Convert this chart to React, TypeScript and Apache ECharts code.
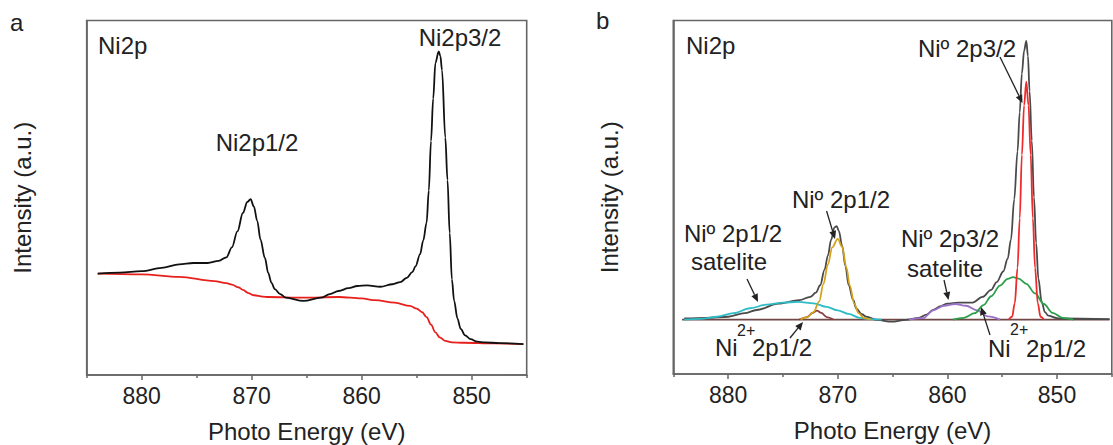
import React, { useEffect, useRef } from 'react';
import * as echarts from 'echarts';

const FONT = '"Liberation Sans", Arial, Helvetica, sans-serif';

// ---------- tick values ----------
const majorTicks = [850, 860, 870, 880];
const minorTicks = [845, 855, 865, 875, 885];

// ---------- panel a : measured spectrum and background ----------
const aMeasured: [number, number][] = [
  [884.0, 28.6], [882.0, 28.9], [880.0, 29.3], [878.2, 30.2], [876.6, 31.2], [875.3, 31.6],
  [874.0, 31.6], [873.0, 32.2], [872.3, 33.2], [871.8, 36.0], [871.3, 40.5], [870.8, 45.7],
  [870.4, 48.8], [870.1, 49.6], [869.8, 47.5], [869.5, 43.5], [869.2, 38.2], [868.8, 33.0],
  [868.5, 28.8], [868.2, 26.0], [867.9, 24.2], [867.4, 22.8], [866.9, 21.8], [865.3, 20.9],
  [863.7, 21.8], [862.9, 22.8], [862.1, 23.7], [861.2, 24.5], [860.4, 25.1], [859.5, 25.3],
  [858.3, 24.9], [857.2, 25.6], [856.5, 26.2], [855.9, 27.4], [855.4, 29.0], [855.1, 30.7],
  [854.7, 34.0], [854.4, 38.0], [854.1, 43.0], [853.9, 52.0], [853.7, 66.0], [853.5, 78.0],
  [853.3, 88.0], [853.0, 91.3], [852.85, 90.0], [852.7, 86.0], [852.4, 67.0], [852.2, 55.0],
  [852.0, 40.0], [851.8, 27.0], [851.6, 21.0], [851.3, 16.0], [851.0, 13.0], [850.6, 11.2],
  [850.1, 10.1], [849.5, 9.4], [848.8, 9.2], [847.5, 9.0], [845.3, 8.7],
];
const aBackground: [number, number][] = [
  [884.0, 28.6], [880.0, 28.4], [876.6, 27.7], [873.4, 26.5], [872.3, 25.9], [871.8, 25.5],
  [871.2, 24.7], [870.8, 24.0], [870.3, 23.1], [869.8, 22.5], [869.0, 22.1], [868.5, 22.0],
  [865.3, 21.8], [862.1, 22.0], [860.0, 21.6], [858.8, 21.1], [857.0, 20.4], [855.6, 19.5],
  [855.0, 18.7], [854.5, 17.7], [854.1, 16.3], [853.7, 14.2], [853.3, 12.0], [852.9, 10.6],
  [852.4, 9.6], [851.8, 9.2], [850.7, 9.1], [848.0, 8.9], [845.3, 8.7],
];

// ---------- panel b : envelope, fitted components, baseline ----------
const bEnvelope: [number, number][] = [
  [884.0, 15.7], [882.0, 15.9], [880.0, 16.2], [878.5, 17.2], [877.4, 18.1], [875.4, 19.9],
  [873.5, 20.9], [872.5, 21.8], [872.0, 23.0], [871.6, 25.1], [871.2, 29.5], [870.9, 33.5],
  [870.6, 38.0], [870.3, 41.5], [870.1, 41.8], [869.9, 40.5], [869.6, 36.3], [869.3, 30.5],
  [869.0, 25.1], [868.6, 21.0], [868.3, 18.5], [867.8, 16.9], [867.4, 16.2], [866.4, 15.3],
  [865.1, 14.8], [863.8, 15.3], [862.6, 15.9], [861.9, 16.8], [861.3, 18.1], [860.6, 19.2],
  [860.0, 19.9], [859.0, 20.2], [857.7, 20.2], [856.8, 21.8], [856.0, 23.8], [855.5, 26.0],
  [854.9, 29.0], [854.5, 32.6], [854.2, 38.0], [853.9, 49.4], [853.6, 63.0], [853.4, 74.0],
  [853.2, 85.0], [853.0, 91.5], [852.8, 94.2], [852.65, 90.0], [852.5, 80.0], [852.3, 66.0],
  [852.1, 50.0], [851.9, 37.0], [851.7, 27.0], [851.4, 20.5], [851.1, 17.5], [850.8, 16.5],
  [850.0, 15.8], [849.7, 15.7], [845.2, 15.5],
];
const bNi0_2p32: [number, number][] = [
  [854.4, 15.4], [854.1, 16.2], [853.85, 20.0], [853.6, 30.0], [853.4, 44.0], [853.2, 62.0],
  [853.0, 76.0], [852.8, 82.7], [852.6, 76.0], [852.4, 62.0], [852.2, 44.0], [852.0, 30.0],
  [851.75, 20.0], [851.5, 16.2], [851.2, 15.4],
];
const bNi2_2p: [number, number][] = [
  [859.5, 15.4], [858.5, 15.9], [857.5, 17.2], [856.7, 19.5], [856.0, 22.0], [855.2, 25.0],
  [854.5, 26.9], [854.0, 27.4], [853.5, 27.0], [852.8, 25.5], [852.0, 22.8], [851.2, 19.8],
  [850.4, 17.3], [849.5, 15.9], [848.5, 15.4],
];
const bNi0_2p32Sat: [number, number][] = [
  [863.5, 15.4], [862.2, 15.8], [861.3, 18.0], [860.3, 19.3], [859.3, 19.8], [858.3, 19.3],
  [857.3, 18.0], [856.3, 16.3], [855.2, 15.4],
];
const bNi0_2p12Sat: [number, number][] = [
  [884.0, 15.4], [882.5, 15.6], [881.0, 16.2], [879.5, 17.2], [878.0, 18.6], [876.5, 19.6],
  [875.0, 20.2], [873.6, 20.4], [872.2, 20.0], [871.0, 19.0], [870.0, 18.0], [869.0, 17.0],
  [868.0, 15.9], [867.0, 15.5], [866.0, 15.4],
];
const bNi0_2p12: [number, number][] = [
  [873.4, 15.4], [872.8, 16.0], [872.2, 17.5], [871.7, 20.5], [871.3, 25.5], [870.9, 31.0],
  [870.5, 35.8], [870.0, 38.2], [869.6, 36.0], [869.2, 30.0], [868.9, 25.0], [868.5, 20.0],
  [868.1, 17.2], [867.6, 15.8], [867.0, 15.4],
];
const bNi2_2p12: [number, number][] = [
  [873.5, 15.4], [872.8, 16.1], [872.3, 17.3], [871.9, 17.9], [871.5, 17.3], [871.0, 16.1],
  [870.4, 15.4],
];
const bBaseline: [number, number][] = [[884.2, 15.4], [845.2, 15.4]];

const AXIS_COLOR = '#666';
const TEXT_COLOR = '#222';

function xAxes(gridIndex: number) {
  return [
    {
      type: 'value', gridIndex, min: 845, max: 885, inverse: true,
      axisLine: { show: true, onZero: false, lineStyle: { color: AXIS_COLOR, width: 1.6 } },
      axisTick: { show: true, customValues: majorTicks, length: 5, lineStyle: { color: AXIS_COLOR, width: 1.5 } },
      axisLabel: { show: true, customValues: majorTicks, color: TEXT_COLOR, fontSize: 23, fontFamily: FONT, margin: 9 },
      splitLine: { show: false },
      name: 'Photo Energy (eV)', nameLocation: 'middle', nameGap: 44,
      nameTextStyle: { color: TEXT_COLOR, fontSize: 24, fontFamily: FONT },
    },
    {
      type: 'value', gridIndex, min: 845, max: 885, inverse: true, position: 'bottom',
      axisLine: { show: false },
      axisTick: { show: true, customValues: minorTicks, length: 3, lineStyle: { color: AXIS_COLOR, width: 1.5 } },
      axisLabel: { show: false },
      splitLine: { show: false },
    },
  ];
}

function yAxis(gridIndex: number) {
  return {
    type: 'value', gridIndex, min: 0, max: 100,
    axisLine: { show: true, lineStyle: { color: AXIS_COLOR, width: 1.6 } },
    axisTick: { show: false }, axisLabel: { show: false }, splitLine: { show: false },
    name: 'Intensity (a.u.)', nameLocation: 'middle', nameGap: 52, nameRotate: 90,
    nameTextStyle: { color: TEXT_COLOR, fontSize: 24, fontFamily: FONT },
  };
}

function line(name: string, data: [number, number][], color: string, xi: number, yi: number, width = 1.8) {
  return {
    type: 'line', name, data, xAxisIndex: xi, yAxisIndex: yi, symbol: 'none',
    smooth: 0.35, smoothMonotone: 'x',
    lineStyle: { color, width }, itemStyle: { color }, silent: true,
  };
}

function txt(x: number, y: number, text: string, size = 24, align = 'left') {
  return {
    type: 'text', x, y, z: 100,
    style: { text, fill: TEXT_COLOR, font: `${size}px ${FONT}`, align, verticalAlign: 'middle' },
  };
}

function arrow(x1: number, y1: number, x2: number, y2: number) {
  const dx = x2 - x1, dy = y2 - y1, L = Math.hypot(dx, dy);
  const ux = dx / L, uy = dy / L, hl = 8, hw = 3.5;
  const bx = x2 - ux * hl, by = y2 - uy * hl;
  return [
    { type: 'line', z: 100, shape: { x1, y1, x2: bx, y2: by }, style: { stroke: TEXT_COLOR, lineWidth: 1.3 } },
    {
      type: 'polygon', z: 100,
      shape: { points: [[x2, y2], [bx - uy * hw, by + ux * hw], [bx + uy * hw, by - ux * hw]] },
      style: { fill: TEXT_COLOR },
    },
  ];
}

const option = {
  animation: false,
  backgroundColor: '#fff',
  grid: [
    { left: 86.7, top: 20.5, width: 440, height: 354.5, show: true, borderColor: AXIS_COLOR, borderWidth: 1.6, containLabel: false, outerBoundsMode: 'none' },
    { left: 673.3, top: 20.5, width: 438.5, height: 353.5, show: true, borderColor: AXIS_COLOR, borderWidth: 1.6, containLabel: false, outerBoundsMode: 'none' },
  ],
  xAxis: [...xAxes(0), ...xAxes(1)],
  yAxis: [yAxis(0), yAxis(1)],
  series: [
    line('a background', aBackground, '#e8201c', 0, 0, 1.8),
    line('a measured', aMeasured, '#111111', 0, 0, 1.8),
    line('b baseline', bBaseline, '#6e4746', 2, 1, 1.8),
    line('b envelope', bEnvelope, '#4a4a4a', 2, 1, 1.8),
    line('Ni0 2p1/2 satellite', bNi0_2p12Sat, '#2fbcc6', 2, 1, 1.8),
    line('Ni2+ 2p1/2 (a)', bNi2_2p12, '#8b3d3c', 2, 1, 1.8),
    line('Ni0 2p1/2', bNi0_2p12, '#d4a21c', 2, 1, 1.8),
    line('Ni0 2p3/2 satellite', bNi0_2p32Sat, '#9a70c8', 2, 1, 1.8),
    line('Ni2+ 2p', bNi2_2p, '#2c9f4a', 2, 1, 1.8),
    line('Ni0 2p3/2', bNi0_2p32, '#ee2a2a', 2, 1, 1.8),
  ],
  graphic: [
    txt(10, 22, 'a'),
    txt(596, 20, 'b'),
    txt(98, 45, 'Ni2p'),
    txt(686, 45, 'Ni2p'),
    txt(257, 142, 'Ni2p1/2', 24, 'center'),
    txt(460, 37, 'Ni2p3/2', 24, 'center'),
    txt(967, 48, 'Niº 2p3/2', 24, 'center'),
    txt(841, 199, 'Niº 2p1/2', 24, 'center'),
    txt(733, 233, 'Niº 2p1/2', 24, 'center'),
    txt(729, 261, 'satelite', 24, 'center'),
    txt(950, 238, 'Niº 2p3/2', 24, 'center'),
    txt(945, 268, 'satelite', 24, 'center'),
    txt(715, 347, 'Ni'),
    txt(737, 330, '2+', 16),
    txt(752, 347, '2p1/2'),
    txt(988, 348, 'Ni'),
    txt(1010, 329, '2+', 16),
    txt(1026, 348, '2p1/2'),
    ...arrow(1000, 57, 1022.5, 103),
    ...arrow(826.6, 211, 835, 239),
    ...arrow(747, 279, 758, 302),
    ...arrow(944, 280, 948.5, 300),
    ...arrow(790, 338, 803, 322),
    ...arrow(990, 335, 981, 307),
  ],
};

export default function App() {
  const ref = useRef<HTMLDivElement>(null);
  useEffect(() => {
    const chart = echarts.init(ref.current!, null, { renderer: 'svg' });
    chart.setOption(option as any);
    return () => chart.dispose();
  }, []);
  return (
    <div
      ref={ref}
      style={{ position: 'absolute', left: 0, top: 0, width: 1113, height: 445, background: '#fff' }}
    />
  );
}
